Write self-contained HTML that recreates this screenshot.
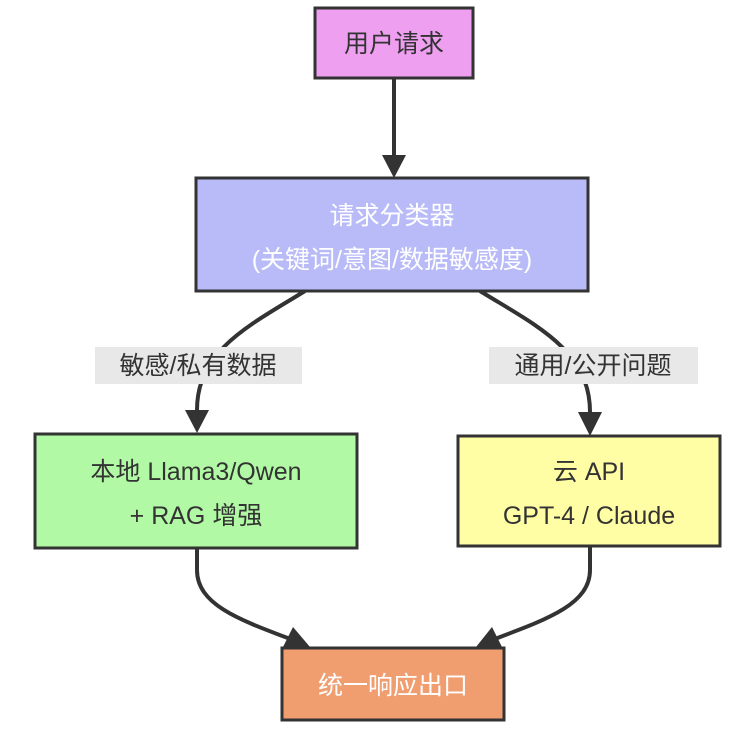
<!DOCTYPE html>
<html><head><meta charset="utf-8"><style>
html,body{margin:0;padding:0;background:#fff;}
svg{display:block;}
text{font-family:"Liberation Sans","Noto Sans CJK SC",sans-serif;font-size:25px;text-anchor:middle;}
</style></head><body>
<svg width="754" height="732" viewBox="0 0 754 732" xmlns="http://www.w3.org/2000/svg">
<g fill="none" stroke="#333" stroke-width="4">
<path d="M394 79 L394 160"/>
<path d="M305 291 C250 325 197 350 197 410"/>
<path d="M480 291 C535 325 590 350 590 412"/>
<path d="M197 548 L197 570 C197 605 240 620 293 640"/>
<path d="M590 546 L590 570 C590 605 545 620 492 640"/>
</g>
<g fill="#333">
<polygon points="382,155 406,155 394,178"/>
<polygon points="185,410 209,410 197,433"/>
<polygon points="578,412 602,412 590,436"/>
<polygon points="293,627 283,647 310,647"/>
<polygon points="492,627 476,647 502,647"/>
</g>
<g stroke="#333" stroke-width="3">
<rect x="315" y="8" width="158" height="70" fill="#ee9ff0"/>
<rect x="196" y="178" width="392" height="113" fill="#b9bbf9"/>
<rect x="35" y="434" width="322" height="114" fill="#b2f9a5"/>
<rect x="458" y="436" width="262" height="110" fill="#fffea5"/>
<rect x="282" y="648" width="222" height="72" fill="#f09e70"/>
</g>
<rect x="95" y="347" width="207" height="37" fill="#e8e8e8"/>
<rect x="489" y="347" width="209" height="37" fill="#e8e8e8"/>
<g fill="#333">
<text x="394" y="52">用户请求</text>
<text x="198" y="374">敏感/私有数据</text>
<text x="593" y="374">通用/公开问题</text>
<text x="196" y="480">本地 Llama3/Qwen</text>
<text x="196" y="524">+ RAG 增强</text>
<text x="589" y="480">云 API</text>
<text x="589" y="524">GPT-4 / Claude</text>
</g>
<g fill="#fff">
<text x="392" y="224">请求分类器</text>
<text x="392" y="268">(关键词/意图/数据敏感度)</text>
<text x="393" y="694">统一响应出口</text>
</g>
</svg>
</body></html>
